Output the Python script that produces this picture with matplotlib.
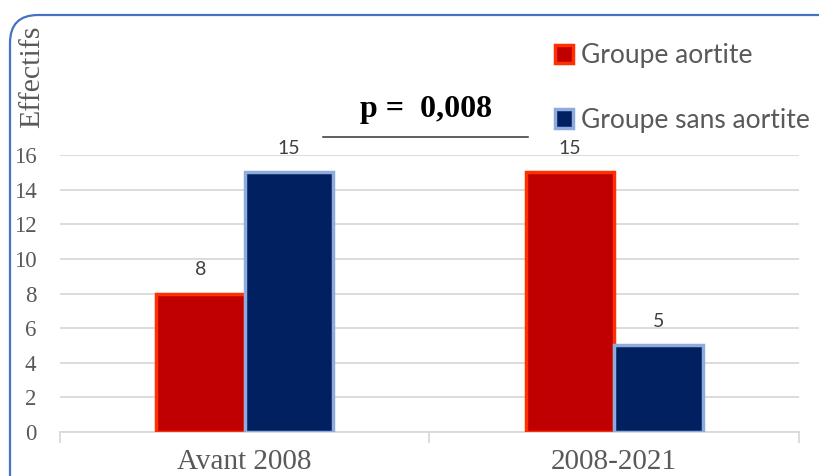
import matplotlib
matplotlib.use("Agg")
import matplotlib.pyplot as plt
from matplotlib.patches import FancyBboxPatch, Patch
import numpy as np

# data
categories = ["Avant 2008", "2008-2021"]
aortite = [8, 15]
sans_aortite = [15, 5]
series_names = ["Groupe aortite", "Groupe sans aortite"]
p_text = "p =  0,008"

grey_txt = "#595959"
grid_col = "#D9D9D9"

fig = plt.figure(figsize=(8.2, 4.76), dpi=100)

# background layer in pixel coordinates (border, p-value)
bg = fig.add_axes([0, 0, 1, 1])
bg.set_xlim(0, 820)
bg.set_ylim(476, 0)
bg.axis("off")
bg.add_patch(FancyBboxPatch((10, 15), 840, 500,
                            boxstyle="round,pad=0,rounding_size=28",
                            facecolor="white", edgecolor="#4472C4", lw=1.6))
bg.text(426, 109, p_text, ha="center", va="center", fontsize=23,
        fontweight="bold", family="Liberation Serif", color="black")
bg.plot([323, 528], [137, 137], color="#333333", lw=1.1)
bg.text(32, 77, "Effectifs", rotation=90, ha="center", va="center",
        fontsize=21.5, family="Liberation Serif", color=grey_txt)

ax = fig.add_axes([60 / 820, 1 - 432 / 476, 739 / 820, (432 - 155) / 476])
ax.patch.set_alpha(0)

x = np.arange(len(categories))
w = 0.24
b1 = ax.bar(x - w / 2, aortite, w, color="#C00000", edgecolor="#FF2F00",
            linewidth=2.5, label=series_names[0], zorder=3)
b2 = ax.bar(x + w / 2, sans_aortite, w, color="#002060", edgecolor="#8FAADC",
            linewidth=2.5, label=series_names[1], zorder=3)
for bars in (b1, b2):
    ax.bar_label(bars, padding=11, fontsize=14, family="Lato", color="#404040")

ax.set_xlim(-0.5, 1.5)
ax.set_ylim(0, 16)
ax.set_yticks(range(0, 17, 2))
ax.yaxis.grid(True, color=grid_col, lw=1.3)
ax.set_axisbelow(True)
ax.tick_params(axis="y", length=0, pad=17, labelsize=16.5, labelcolor=grey_txt)
for lab in ax.get_yticklabels():
    lab.set_family("Liberation Serif")

ax.set_xticks([-0.5, 0.5, 1.5])
ax.set_xticklabels([])
ax.set_xticks(x, minor=True)
ax.set_xticklabels(categories, minor=True, fontsize=21,
                   family="Liberation Serif", color=grey_txt)
ax.tick_params(axis="x", which="major", length=8, color=grid_col, width=1.3)
ax.tick_params(axis="x", which="minor", length=0, pad=12)

for s in ("top", "right", "left"):
    ax.spines[s].set_visible(False)
ax.spines["bottom"].set_color(grid_col)
ax.spines["bottom"].set_linewidth(1.3)

handles = [Patch(facecolor="#C00000", edgecolor="#FF2F00", lw=2.5),
           Patch(facecolor="#002060", edgecolor="#8FAADC", lw=2.5)]
fig.legend(handles, series_names, loc="upper left",
           bbox_to_anchor=(555 / 820, 1 - 43 / 476), frameon=False,
           prop={"family": "Lato", "size": 19}, labelcolor=grey_txt,
           handlelength=0.7, handleheight=0.7, handletextpad=0.3,
           labelspacing=1.5, borderpad=0, borderaxespad=0)

fig.savefig("out.png", dpi=100)
